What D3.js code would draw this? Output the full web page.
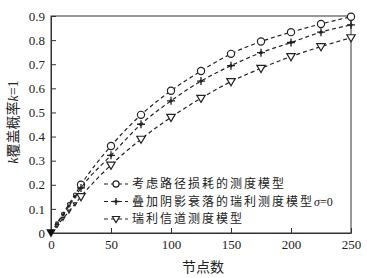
<!DOCTYPE html>
<html>
<head>
<meta charset="utf-8">
<script src="https://cdn.jsdelivr.net/npm/d3@7"></script>
<style>
  body { margin: 0; background: #fff; }
  svg text { fill: #222; }
</style>
</head>
<body>
<div id="chart"></div>
<script>
// node counts
var nodes = [0, 5, 10, 15, 20, 25, 50, 75, 100, 125, 150, 175, 200, 225, 250];
// coverage probability, k = 1
var pathLoss = [0, 0.04, 0.08, 0.12, 0.16, 0.2, 0.361, 0.49, 0.59, 0.672, 0.743, 0.794, 0.833, 0.867, 0.897];
var shadowFade = [0, 0.037, 0.075, 0.112, 0.15, 0.187, 0.322, 0.451, 0.548, 0.63, 0.694, 0.748, 0.79, 0.833, 0.863];
var rayleigh = [0, 0.03, 0.06, 0.09, 0.12, 0.151, 0.282, 0.389, 0.48, 0.559, 0.628, 0.683, 0.732, 0.773, 0.81];
var xTicks = [0, 50, 100, 150, 200, 250];
var yTicks = [0, 0.1, 0.2, 0.3, 0.4, 0.5, 0.6, 0.7, 0.8, 0.9];
var legendNames = ["考虑路径损耗的测度模型", "叠加阴影衰落的瑞利测度模型", "瑞利信道测度模型"];

var W = 367, H = 278;
var margin = {left: 51, right: 16, top: 16, bottom: 45};

var svg = d3.select("#chart").append("svg")
  .attr("width", W).attr("height", H);

var x = d3.scaleLinear().domain([0, 250]).range([margin.left, W - margin.right]);
var y = d3.scaleLinear().domain([0, 0.9]).range([H - margin.bottom, margin.top]);

var serif = "'Liberation Serif', 'DejaVu Serif', serif";
var cjk = "'Noto Sans CJK SC', sans-serif";

// frame
svg.append("rect")
  .attr("x", x(0)).attr("y", y(0.9))
  .attr("width", x(250) - x(0)).attr("height", y(0) - y(0.9))
  .attr("fill", "none").attr("stroke", "#333").attr("stroke-width", 1);

// axes with inward ticks
var xAxis = svg.append("g")
  .attr("transform", "translate(0," + y(0) + ")")
  .call(d3.axisBottom(x).tickValues(xTicks).tickSizeInner(-5).tickSizeOuter(0).tickPadding(7));
var yAxis = svg.append("g")
  .attr("transform", "translate(" + x(0) + ",0)")
  .call(d3.axisLeft(y).tickValues(yTicks).tickSizeInner(-5).tickSizeOuter(0).tickPadding(6)
    .tickFormat(function(d){ return d === 0 ? "0" : d3.format(".1f")(d); }));
[xAxis, yAxis].forEach(function(a){
  a.select(".domain").attr("stroke", "#333");
  a.selectAll(".tick line").attr("stroke", "#333");
  a.selectAll("text").attr("font-family", serif).attr("font-size", 13).attr("fill", "#222");
});

// axis titles
svg.append("text")
  .attr("x", (x(0) + x(250)) / 2 + 2).attr("y", 272)
  .attr("text-anchor", "middle")
  .attr("font-family", cjk).attr("font-size", 14)
  .text("节点数");

var yl = svg.append("text")
  .attr("transform", "translate(18,122) rotate(-90)")
  .attr("text-anchor", "middle")
  .attr("font-family", cjk).attr("font-size", 14);
yl.append("tspan").attr("font-family", serif).attr("font-style", "italic").text("k");
yl.append("tspan").text("覆盖概率");
yl.append("tspan").attr("font-family", serif).attr("font-style", "italic").text("k");
yl.append("tspan").attr("font-family", serif).text("=1");

// series
var series = [
  {vals: pathLoss, mark: "circle"},
  {vals: shadowFade, mark: "plus"},
  {vals: rayleigh, mark: "tri"}
];

var line = d3.line()
  .x(function(d){ return x(d[0]); })
  .y(function(d){ return y(d[1]); })
  .curve(d3.curveMonotoneX);

function drawMark(g, type, cx, cy, s) {
  if (type === "circle") {
    g.append("circle").attr("cx", cx).attr("cy", cy).attr("r", 3.6 * s)
      .attr("fill", "#fff").attr("stroke", "#222").attr("stroke-width", 1.2);
  } else if (type === "plus") {
    g.append("path")
      .attr("d", "M" + (cx - 4 * s) + "," + cy + "H" + (cx + 4 * s) + "M" + cx + "," + (cy - 4 * s) + "V" + (cy + 4 * s))
      .attr("stroke", "#222").attr("stroke-width", 1.3);
    g.append("circle").attr("cx", cx).attr("cy", cy).attr("r", 1.7 * s).attr("fill", "#222");
  } else {
    var r = 4.2 * s;
    g.append("path")
      .attr("d", "M" + (cx - r) + "," + (cy - r * 0.7) + "L" + (cx + r) + "," + (cy - r * 0.7) + "L" + cx + "," + (cy + r) + "Z")
      .attr("fill", "#fff").attr("stroke", "#222").attr("stroke-width", 1.2);
  }
}

series.forEach(function(s){
  var pts = nodes.map(function(n, i){ return [n, s.vals[i]]; });
  svg.append("path").datum(pts)
    .attr("d", line)
    .attr("fill", "none").attr("stroke", "#222")
    .attr("stroke-width", 1.2).attr("stroke-dasharray", "4,3");
  var g = svg.append("g");
  pts.forEach(function(p){
    var small = p[0] > 0 && p[0] < 25;
    if (p[0] === 0) return;
    drawMark(g, s.mark, x(p[0]), y(p[1]), small ? 0.4 : 1);
  });
});
// origin marker
svg.append("path")
  .attr("d", d3.symbol().type(d3.symbolTriangle).size(40)())
  .attr("transform", "translate(" + x(0) + "," + (y(0) - 1) + ") rotate(180)")
  .attr("fill", "#111");

// legend
var lg = svg.append("g");
legendNames.forEach(function(name, i){
  var ly = 184 + i * 17.5;
  lg.append("line")
    .attr("x1", 104).attr("x2", 128).attr("y1", ly).attr("y2", ly)
    .attr("stroke", "#222").attr("stroke-width", 1.2).attr("stroke-dasharray", "4,3");
  drawMark(lg, series[i].mark, 116, ly, 0.85);
  var t = lg.append("text")
    .attr("x", 132).attr("y", ly + 4.3)
    .attr("font-family", cjk).attr("font-size", 12)
    .attr("letter-spacing", 2)
    .text(name);
  if (i === 1) {
    t.append("tspan").attr("font-family", serif).attr("font-style", "italic")
      .attr("letter-spacing", 0).text("σ");
    t.append("tspan").attr("font-family", serif).attr("letter-spacing", 0).text("=0");
  }
});
</script>
</body>
</html>
